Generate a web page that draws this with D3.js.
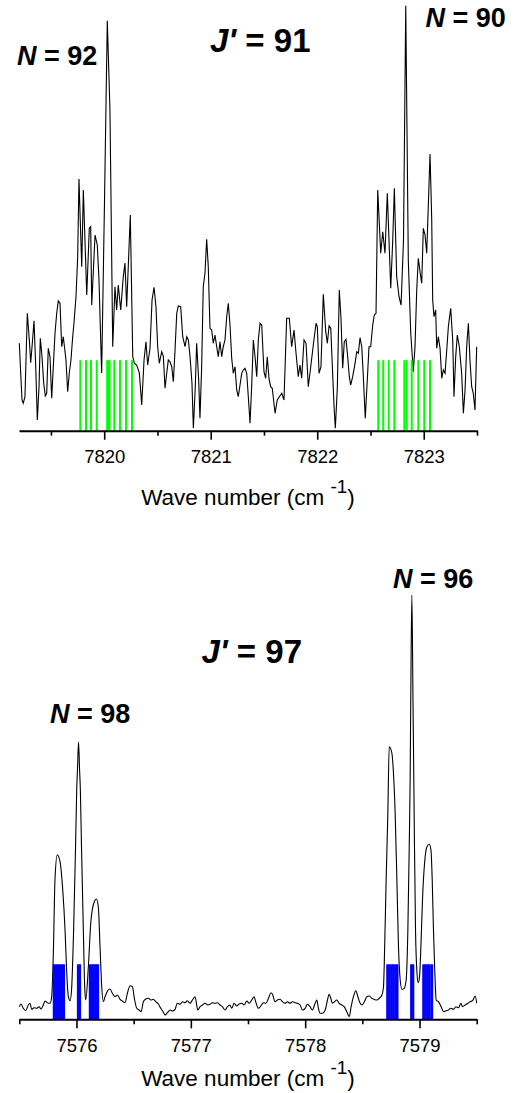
<!DOCTYPE html>
<html>
<head>
<meta charset="utf-8">
<script src="https://cdn.jsdelivr.net/npm/d3@7"></script>
<style>
  body { margin: 0; background: #fff; }
  svg text { font-family: "Liberation Sans", Arial, sans-serif; white-space: pre; }
</style>
</head>
<body>
<div id="chart"></div>
<script>
// top panel: J' = 91, [wave number, signal]
let topSpectrum = [
  [7819.203,87.4],[7819.216,57.4],[7819.228,30.7],[7819.240,27.4],[7819.256,34],[7819.278,117.4],[7819.297,90.7],[7819.310,68],[7819.325,87.4],[7819.341,110],
  [7819.357,64],[7819.372,10.7],[7819.388,44],[7819.400,92.4],[7819.416,74],[7819.432,47.4],[7819.447,34.7],[7819.460,37.4],[7819.475,82.4],[7819.491,74],
  [7819.507,32.4],[7819.522,64],[7819.538,97.4],[7819.554,117.4],[7819.569,129.7],[7819.585,127.4],[7819.601,84],[7819.616,94],[7819.641,70.7],[7819.657,39],
  [7819.672,57.4],[7819.688,70.7],[7819.704,94],[7819.716,107.4],[7819.735,134],[7819.751,174],[7819.763,251.7],[7819.789,164],[7819.804,240.7],[7819.836,135.7],
  [7819.860,202.4],[7819.873,204],[7819.883,125.7],[7819.914,195.7],[7819.935,185.7],[7819.951,150.7],[7819.976,57.7],[7820.003,230.7],[7820.029,410],[7820.054,320.7],
  [7820.080,84],[7820.101,144],[7820.117,120.7],[7820.132,145.7],[7820.155,120.7],[7820.179,154],[7820.195,167.7],[7820.211,124],[7820.245,215.7],[7820.268,74],
  [7820.283,67.4],[7820.305,65.7],[7820.330,57.7],[7820.352,25.7],[7820.374,70.7],[7820.392,89],[7820.408,65.7],[7820.430,82.4],[7820.449,130.7],[7820.468,143.4],
  [7820.486,124],[7820.502,84],[7820.517,67.4],[7820.540,79],[7820.555,74.7],[7820.571,42.4],[7820.587,57.4],[7820.602,70.7],[7820.618,69],[7820.634,64],
  [7820.649,49],[7820.665,80.7],[7820.681,117.4],[7820.696,124.7],[7820.718,124],[7820.737,94],[7820.759,84],[7820.775,94],[7820.790,90.7],[7820.806,74],
  [7820.824,47.4],[7820.837,2.4],[7820.855,44],[7820.868,87.4],[7820.887,50.7],[7820.899,12.4],[7820.915,64],[7820.930,144],[7820.946,157.4],[7820.962,191.4],
  [7820.977,164],[7820.993,102.4],[7821.009,100.7],[7821.024,87.4],[7821.040,95.7],[7821.056,84],[7821.071,74],[7821.087,89],[7821.103,74],[7821.118,84],
  [7821.134,90.7],[7821.150,114],[7821.165,127.4],[7821.181,105.7],[7821.197,72.4],[7821.212,57.4],[7821.228,64],[7821.244,40.7],[7821.259,34],[7821.275,45.7],
  [7821.291,57.4],[7821.306,60.7],[7821.322,62.4],[7821.338,57.4],[7821.353,34],[7821.369,7.4],[7821.385,45.7],[7821.400,90.7],[7821.416,74],[7821.432,54],
  [7821.447,90.7],[7821.463,107.4],[7821.479,105.7],[7821.500,59],[7821.516,52.4],[7821.531,74],[7821.547,52.4],[7821.563,44],[7821.578,42.4],[7821.604,17.4],
  [7821.625,30.7],[7821.644,34],[7821.667,37.4],[7821.688,30.7],[7821.713,112.4],[7821.738,112.4],[7821.760,84],[7821.782,100.7],[7821.801,77.4],[7821.822,54],
  [7821.838,65.7],[7821.854,52.4],[7821.876,90.7],[7821.895,87.4],[7821.916,44],[7821.939,64],[7821.963,85.7],[7821.989,107.4],[7822.001,104],[7822.017,57.4],
  [7822.035,64],[7822.057,136.4],[7822.080,99],[7822.095,87.4],[7822.111,104.7],[7822.127,102.4],[7822.142,64],[7822.158,24],[7822.170,2.4],[7822.189,44],
  [7822.207,140.7],[7822.223,112.4],[7822.239,62.4],[7822.254,89],[7822.270,91.4],[7822.286,74],[7822.301,54],[7822.314,45.7],[7822.333,54],[7822.355,67.4],
  [7822.371,79],[7822.386,77.4],[7822.402,93],[7822.418,84],[7822.433,54],[7822.451,12.4],[7822.470,50.7],[7822.486,84],[7822.502,84],[7822.521,105.7],
  [7822.536,115.7],[7822.552,117.4],[7822.568,240.7],[7822.596,177.4],[7822.615,199],[7822.636,177.4],[7822.658,237.4],[7822.690,142.4],[7822.709,190.7],[7822.724,242.4],
  [7822.746,154],[7822.768,134],[7822.787,125.7],[7822.810,190.7],[7822.831,425],[7822.855,170.7],[7822.878,97.4],[7822.902,59],[7822.918,84],[7822.934,140.7],
  [7822.949,172.4],[7822.965,159],[7822.981,147.4],[7822.996,202.4],[7823.012,195.7],[7823.028,177.4],[7823.059,276.7],[7823.075,210.7],[7823.084,130.7],[7823.096,114],
  [7823.112,120.7],[7823.122,82.4],[7823.137,94],[7823.153,82.4],[7823.169,52.4],[7823.184,60.7],[7823.200,57.4],[7823.216,80.7],[7823.231,104],[7823.253,122.4],
  [7823.272,90.7],[7823.284,34],[7823.300,74],[7823.315,95.7],[7823.334,84],[7823.356,57.4],[7823.372,17.4],[7823.388,40.7],[7823.403,84],[7823.419,107.4],
  [7823.434,70.7],[7823.450,44],[7823.465,37.4],[7823.481,20.7],[7823.497,84]
];
// calculated line positions (N = 92 and N = 90)
let topSticks = [
  7819.776, 7819.829, 7819.876, 7819.930, 7820.028, 7820.040, 7820.050, 7820.095, 7820.148, 7820.205, 7820.261,
  7822.573, 7822.620, 7822.671, 7822.724, 7822.818, 7822.840, 7822.887, 7822.949, 7823.005, 7823.059
];
let topStickHeight = 70.5;
let topTicks = [7820, 7821, 7822, 7823];
let topMinorTicks = [7819.5, 7820.5, 7821.5, 7822.5, 7823.5];

// bottom panel: J' = 97
let bottomSpectrum = [
  [7575.500,12.6],[7575.515,15.3],[7575.535,11],[7575.556,8.6],[7575.579,14.3],[7575.594,16],[7575.608,10],[7575.629,11.6],[7575.652,11],[7575.672,12.6],
  [7575.690,10.3],[7575.710,14.3],[7575.725,18.3],[7575.745,16.6],[7575.769,16],[7575.783,22.6],
  [7575.797,62.6],[7575.812,139.3],[7575.832,164.6],[7575.856,157.6],[7575.880,129.3],[7575.900,89.3],[7575.915,46.3],[7575.929,22.6],[7575.944,18.6],
  [7575.957,29.3],[7575.975,89.3],[7575.992,172.6],[7576.002,229.3],[7576.009,250],[7576.018,277.3],[7576.027,250],[7576.034,229.3],[7576.044,172.6],[7576.060,89.3],
  [7576.073,29.3],[7576.081,19.3],
  [7576.104,52.6],[7576.125,96.3],[7576.147,114.3],[7576.174,120.3],[7576.191,112.6],[7576.206,72.6],[7576.221,32.6],[7576.235,17.6],
  [7576.250,22.6],[7576.273,28.6],[7576.294,30.3],[7576.314,26],[7576.337,22.6],[7576.357,24.3],[7576.381,20],[7576.401,18.3],[7576.425,16.6],[7576.445,26],
  [7576.469,33.6],[7576.489,32.6],[7576.506,21],[7576.527,11],[7576.547,9.3],[7576.565,7.6],[7576.585,17.6],[7576.606,20.3],[7576.629,21],[7576.652,19.3],
  [7576.672,20],[7576.693,17.6],[7576.716,15.3],[7576.737,11],[7576.757,7.6],[7576.775,4.3],[7576.795,6.6],[7576.819,9.3],[7576.839,8.3],[7576.862,10],
  [7576.882,16],[7576.906,15],[7576.926,17.6],[7576.950,16.6],[7576.970,18.6],[7576.993,16],[7577.014,19.3],[7577.037,22.6],[7577.061,9.3],[7577.081,12.6],
  [7577.101,14.3],[7577.125,16],[7577.148,14.3],[7577.168,15],[7577.189,16.6],[7577.212,16],[7577.232,16.6],[7577.256,14.3],[7577.276,12.6],[7577.300,9.3],
  [7577.320,12.6],[7577.341,14.3],[7577.358,11],[7577.378,16],[7577.402,13.3],[7577.422,15.3],[7577.446,16],[7577.466,14.3],[7577.490,18.3],[7577.510,16],
  [7577.533,19.3],[7577.553,22.6],[7577.568,17.3],[7577.591,11],[7577.612,13.3],[7577.635,16.6],[7577.656,16],[7577.679,21],[7577.700,26.6],[7577.713,25.3],
  [7577.737,17.6],[7577.757,19.3],[7577.781,20],[7577.801,17.6],[7577.825,16],[7577.845,17.6],[7577.868,16],[7577.889,17.6],[7577.912,16.6],[7577.932,16],
  [7577.956,14.3],[7577.976,9.3],[7578.000,11],[7578.020,15],[7578.043,12.6],[7578.063,9.3],[7578.087,16],[7578.102,19.3],[7578.116,11],[7578.131,6],
  [7578.151,6],[7578.175,9.3],[7578.195,19.3],[7578.210,25],[7578.224,21],[7578.238,16],[7578.256,17.6],[7578.277,19.3],[7578.297,16],[7578.321,14.3],
  [7578.341,12.6],[7578.364,7.6],[7578.385,2.6],[7578.402,12.6],[7578.422,22.6],[7578.443,28.6],[7578.461,22.6],[7578.481,16],[7578.496,14.3],[7578.518,17.6],
  [7578.539,22.6],[7578.560,23.3],[7578.583,21],[7578.603,20],[7578.627,19.3],[7578.647,21],[7578.671,24.3],[7578.685,32.6],
  [7578.691,52.6],[7578.708,139.3],[7578.723,206.3],[7578.735,272.6],[7578.758,266.3],[7578.772,246.3],[7578.787,206],[7578.802,139.3],[7578.816,72.6],[7578.831,39.3],
  [7578.846,30],[7578.866,31],[7578.883,39.3],[7578.898,89.3],[7578.910,172.6],
  [7578.918,239.3],[7578.924,329.3],[7578.933,424.3],[7578.942,329.3],[7578.951,229.3],[7578.956,172.6],[7578.965,89.3],[7578.978,46],[7578.988,36.6],[7579.000,42.6],
  [7579.012,72.6],[7579.027,122.6],[7579.044,156],[7579.065,172.6],[7579.085,175],[7579.100,169.3],[7579.111,139.3],[7579.122,89.3],[7579.134,46],[7579.146,19.3],
  [7579.166,17.6],[7579.189,12.6],[7579.210,7.6],[7579.231,8.6],[7579.253,9.3],[7579.274,11],[7579.297,10],[7579.318,12.6],[7579.341,11.6],[7579.362,16],
  [7579.376,12.6],[7579.399,14.3],[7579.423,16],[7579.443,17.6],[7579.463,18.6],[7579.487,23.3],[7579.500,16]
];
// calculated line positions (N = 98 and N = 96)
let bottomSticks = [
  7575.804, 7575.821, 7575.839, 7575.856, 7575.874, 7575.889,
  7576.015, 7576.029,
  7576.119, 7576.136, 7576.154, 7576.171, 7576.187,
  7578.720, 7578.737, 7578.755, 7578.772, 7578.790, 7578.805,
  7578.929, 7578.943,
  7579.035, 7579.052, 7579.070, 7579.087, 7579.108
];
let bottomStickHeight = 55;
let bottomTicks = [7576, 7577, 7578, 7579];
let bottomMinorTicks = [7575.5, 7576.5, 7577.5, 7578.5, 7579.5];

let width = 519;
let height = 1093;

let svg = d3.select('#chart')
  .append('svg')
  .attr('width', width)
  .attr('height', height)
  .style('background', '#fff');

function drawPanel(p) {
  let x = d3.scaleLinear().domain(p.domain).range([p.left, p.right]);
  let y = d3.scaleLinear().domain([0, 425]).range([p.axisY, p.axisY - 425]);
  let g = svg.append('g');

  let line = d3.line()
    .x(d => x(d[0]))
    .y(d => y(d[1]))
    .curve(p.curve);

  g.append('path')
    .datum(p.spectrum)
    .attr('d', line)
    .attr('fill', 'none')
    .attr('stroke', '#000')
    .attr('stroke-width', 1.1);

  g.selectAll('rect.stick')
    .data(p.sticks)
    .enter()
    .append('rect')
    .attr('class', 'stick')
    .attr('x', d => x(d) - p.stickWidth / 2)
    .attr('width', p.stickWidth)
    .attr('y', y(p.stickHeight))
    .attr('height', y(0) - y(p.stickHeight))
    .attr('fill', p.stickColor);

  let minor = g.append('g')
    .attr('transform', `translate(0,${p.axisY})`)
    .call(d3.axisBottom(x).tickValues(p.minorTicks).tickSize(5).tickSizeOuter(0).tickFormat(''));
  minor.select('.domain').remove();
  minor.selectAll('line').attr('stroke-width', 1.6);

  let major = g.append('g')
    .attr('transform', `translate(0,${p.axisY})`)
    .call(d3.axisBottom(x).tickValues(p.ticks).tickSize(9).tickSizeOuter(0).tickFormat(d3.format('d')));
  major.select('.domain').attr('stroke-width', 2);
  major.selectAll('line').attr('stroke-width', 1.6);
  major.selectAll('text')
    .attr('y', 19.5)
    .attr('font-size', 18.5)
    .attr('font-family', '"Liberation Sans", Arial, sans-serif')
    .attr('fill', '#000');

  let title = g.append('text')
    .attr('x', (p.left + p.right) / 2)
    .attr('y', p.titleY)
    .attr('text-anchor', 'middle')
    .attr('font-size', 22.5);
  title.append('tspan').text('Wave number (cm ');
  title.append('tspan').attr('font-size', 19).attr('dy', -12).text('-1');
  title.append('tspan').attr('dy', 12).text(')');

  p.labels.forEach(l => {
    let t = g.append('text')
      .attr('x', l.x)
      .attr('y', l.y)
      .attr('font-size', l.size)
      .attr('font-weight', 'bold');
    t.append('tspan').attr('font-style', 'italic').text(l.italic);
    t.append('tspan').text(l.rest);
  });
}

drawPanel({
  domain: [7819.2, 7823.5], left: 19, right: 477, axisY: 430.7,
  spectrum: topSpectrum, curve: d3.curveLinear,
  sticks: topSticks, stickHeight: topStickHeight, stickColor: '#00ff00', stickWidth: 2,
  ticks: topTicks, minorTicks: topMinorTicks, titleY: 505,
  labels: [
    { italic: "J'", rest: ' = 91', x: 210, y: 52, size: 33 },
    { italic: 'N', rest: ' = 92', x: 17, y: 65, size: 27 },
    { italic: 'N', rest: ' = 90', x: 425.5, y: 27, size: 27 }
  ]
});

drawPanel({
  domain: [7575.5, 7579.5], left: 19.3, right: 476.7, axisY: 1019.3,
  spectrum: bottomSpectrum, curve: d3.curveMonotoneX,
  sticks: bottomSticks, stickHeight: bottomStickHeight, stickColor: '#0000ff', stickWidth: 2.6,
  ticks: bottomTicks, minorTicks: bottomMinorTicks, titleY: 1086,
  labels: [
    { italic: "J'", rest: ' = 97', x: 201.5, y: 663, size: 33 },
    { italic: 'N', rest: ' = 98', x: 50, y: 722.5, size: 27 },
    { italic: 'N', rest: ' = 96', x: 393, y: 588, size: 27 }
  ]
});
</script>
</body>
</html>
